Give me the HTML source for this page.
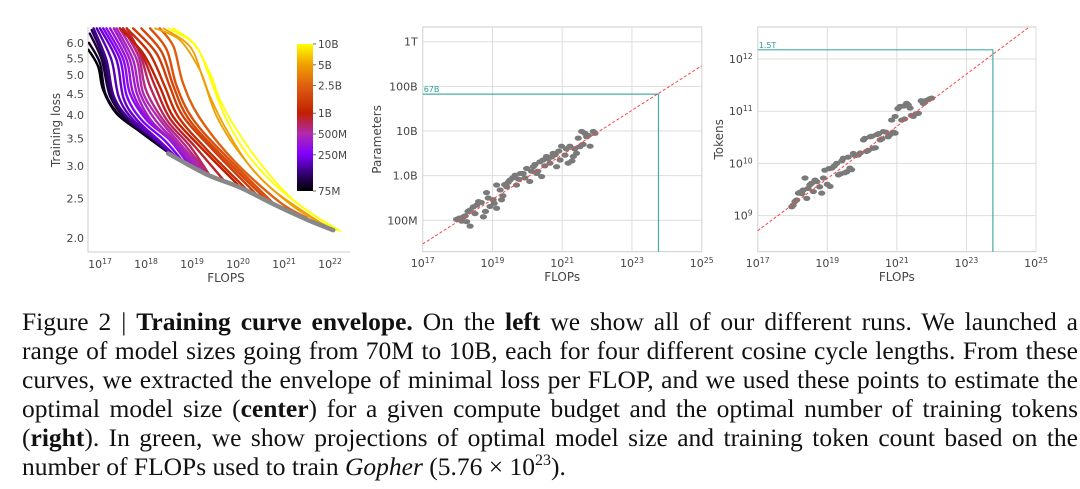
<!DOCTYPE html>
<html><head><meta charset="utf-8"><style>
body{margin:0;background:#fff;width:1080px;height:489px;overflow:hidden;position:relative}
svg text{font-family:"DejaVu Sans","Liberation Sans",sans-serif;fill:#444}
#cap{position:absolute;left:22px;top:307px;width:1056px;font-family:"Liberation Serif",serif;font-size:25.5px;line-height:29px;color:#111}
#cap div{text-align:justify;text-align-last:justify;white-space:nowrap;height:29px}
#cap div.last{text-align-last:left}
#cap sup{font-size:16px;line-height:0;vertical-align:0;position:relative;top:-10px}
</style></head><body>
<svg id="chart" width="1080" height="300" viewBox="0 0 1080 300" xmlns="http://www.w3.org/2000/svg">
<defs>
<linearGradient id="cbar" x1="0" y1="1" x2="0" y2="0">
<stop offset="0" stop-color="#000000"/><stop offset="0.1" stop-color="#2a0060"/><stop offset="0.25" stop-color="#8000ff"/><stop offset="0.39" stop-color="#b02ab0"/><stop offset="0.53" stop-color="#c02000"/><stop offset="0.72" stop-color="#e06010"/><stop offset="0.86" stop-color="#f0a000"/><stop offset="1" stop-color="#ffff00"/>
</linearGradient>
<clipPath id="clipL"><rect x="88" y="27" width="262" height="225"/></clipPath>
<clipPath id="clipC"><rect x="422.7" y="27" width="279" height="225"/></clipPath>
<clipPath id="clipR"><rect x="757.7" y="27" width="278.3" height="225"/></clipPath>
</defs>
<g id="left"></g><g id="center"></g><g id="right"></g>
</svg>
<div id="cap">
<div>Figure 2 | <b>Training curve envelope.</b> On the <b>left</b> we show all of our different runs. We launched a</div>
<div>range of model sizes going from 70M to 10B, each for four different cosine cycle lengths. From these</div>
<div>curves, we extracted the envelope of minimal loss per FLOP, and we used these points to estimate the</div>
<div>optimal model size (<b>center</b>) for a given compute budget and the optimal number of training tokens</div>
<div>(<b>right</b>). In green, we show projections of optimal model size and training token count based on the</div>
<div class="last">number of FLOPs used to train <i>Gopher</i> (5.76 × 10<sup>23</sup>).</div>
</div>
<script>
// ---- left chart data ----
const curveSizesM = [75,90,100,120,150,180,200,250,300,350,400,450,500,600,700,850,1000,1200,1500,1750,2000,2500,5000,5000,10000,10000];
const curveLogC = [
[16.75,16.96,17.07,17.36,17.87,18.48],
[16.76,17.0,17.12,17.45,17.95,18.5],
[16.78,17.04,17.22,17.58,18.09,18.52],
[16.82,17.09,17.26,17.62,18.12,18.56],
[16.86,17.14,17.30,17.65,18.16,18.6],
[16.93,17.25,17.41,17.72,18.23,18.65],
[17.0,17.36,17.51,17.8,18.3,18.7],
[17.07,17.44,17.58,17.9,18.41,18.83],
[17.14,17.51,17.65,18.01,18.52,18.96],
[17.22,17.58,17.72,18.05,18.56,19.03],
[17.3,17.65,17.8,18.1,18.6,19.1],
[17.36,17.72,17.87,18.2,18.67,19.2],
[17.43,17.80,17.94,18.30,18.74,19.32],
[17.5,17.84,18.0,18.37,18.85,19.36],
[17.58,17.87,18.09,18.45,18.96,19.39],
[17.5,17.9,18.2,18.52,19.06,19.7],
[17.43,17.94,18.30,18.59,19.17,20.04],
[17.58,18.08,18.41,18.7,19.3,20.2],
[17.72,18.23,18.52,18.81,19.46,20.41],
[17.9,18.34,18.6,18.92,19.6,20.6],
[18.09,18.45,18.67,19.03,19.75,20.77],
[18.3,18.6,18.8,19.15,19.9,20.9,21.5],
[18.2,18.74,19.17,19.39,19.75,20.33,21.2,21.93],
[18.38,18.96,19.25,19.54,20.04,20.77,21.93],
[18.49,19.03,19.39,19.61,19.97,20.48,21.2,22.14],
[18.59,19.10,19.46,19.75,20.19,20.77,21.49,22.22]];
const curveLoss = [
[5.77,5.25,4.6,4.03,3.64,3.24],
[6.0,5.35,4.5,3.96,3.6,3.23],
[6.32,5.45,4.44,3.89,3.54,3.22],
[6.45,5.45,4.44,3.89,3.52,3.19],
[6.51,5.45,4.44,3.89,3.50,3.17],
[6.51,5.45,4.42,3.89,3.48,3.14],
[6.51,5.45,4.4,3.89,3.45,3.12],
[6.51,5.45,4.46,3.89,3.46,3.05],
[6.51,5.45,4.52,3.89,3.47,2.99],
[6.51,5.45,4.52,3.89,3.44,2.97],
[6.51,5.45,4.52,3.89,3.42,2.95],
[6.51,5.45,4.52,3.89,3.41,2.91],
[6.51,5.45,4.52,3.89,3.4,2.86],
[6.51,5.55,4.6,3.89,3.37,2.85],
[6.51,5.65,4.69,3.89,3.35,2.84],
[6.51,5.65,4.69,3.92,3.35,2.76],
[6.51,5.65,4.69,3.96,3.35,2.67],
[6.51,5.65,4.69,3.96,3.31,2.62],
[6.51,5.65,4.69,3.96,3.28,2.55],
[6.51,5.7,4.69,3.92,3.22,2.49],
[6.51,5.77,4.69,3.89,3.16,2.43],
[6.51,5.87,4.8,3.96,3.1,2.45,2.24],
[6.51,6.09,5.15,4.44,3.68,2.93,2.39,2.14],
[6.51,5.87,4.87,3.96,3.22,2.62,2.13],
[6.51,5.98,5.06,4.35,3.68,3.05,2.48,2.09],
[6.51,5.87,4.69,3.89,3.22,2.72,2.34,2.08]];
const envLogC = [18.48,19.32,20.04,20.77,21.49,22.07];
const envLoss = [3.22,2.86,2.66,2.42,2.22,2.09];
const lossTicks = [2.0,2.5,3.0,3.5,4.0,4.5,5.0,5.5,6.0];
const leftXTicks = [17,18,19,20,21,22];
const cbarSizes = [10000,5000,2500,1000,500,250,75];
const cbarLabels = ["10B","5B","2.5B","1B","500M","250M","75M"];
// ---- center chart data ----
const paramLogC = [17.97,18.17,18.26,18.36,18.36,18.55,18.6,18.74,18.83,18.93,19.02,19.12,19.12,19.26,19.22,19.41,19.5,19.65,19.69,19.88,19.98,20.07,20.17,20.27,20.36,20.41,20.55,20.65,20.74,20.84,20.94,20.98,21.08,21.17,21.22,21.32,21.41,21.51,21.46,21.56,21.7,21.8,21.89,21.94,
 18.05,18.12,18.22,18.3,18.45,18.5,18.68,18.8,18.88,19.05,19.3,19.35,19.45,19.58,19.75,19.8,19.93,20.12,20.22,20.3,20.45,20.5,20.6,20.7,20.8,20.9,21.12,21.28,21.36,21.6,21.65,21.75];
const paramLogN = [8.02,8.08,7.97,7.87,8.23,8.34,8.42,8.08,8.62,8.31,8.46,8.79,8.27,8.46,8.68,8.75,8.9,9.01,8.79,9.05,9.16,8.87,9.2,9.05,9.31,8.98,9.43,9.28,9.5,9.2,9.35,9.66,9.46,9.28,9.66,9.43,9.5,9.65,9.84,9.99,9.87,9.66,9.99,9.95,
 8.05,7.98,8.1,8.2,8.3,8.15,8.4,8.2,8.5,8.38,8.55,8.8,8.85,8.95,8.92,9.05,8.95,9.1,9.25,9.1,9.35,9.22,9.38,9.42,9.47,9.55,9.6,9.33,9.6,9.7,9.95,9.9];
const paramFit = [7.47,11.46];
const paramYTicks = [8,9,10,11,12];
const paramYLabels = ["100M","1.0B","10B","100B","1T"];
const projParamLogN = Math.log10(67e9);
const gopherLogC = Math.log10(5.76e23);
// ---- right chart data ----
const tokLogC = [17.98,18.07,18.17,18.31,18.36,18.41,18.5,18.6,18.7,18.84,18.89,18.93,19.08,19.13,19.27,19.32,19.46,19.56,19.65,19.75,19.89,20.04,20.13,20.23,20.32,20.42,20.52,20.61,20.75,20.95,20.85,20.95,21.09,21.14,21.28,21.38,21.47,21.62,21.76,21.9,22.0,
 18.02,18.12,18.22,18.27,18.45,18.55,18.65,18.78,19.0,19.05,19.2,19.38,19.42,19.5,19.6,19.7,19.8,19.95,20.08,20.18,20.28,20.38,20.48,20.57,20.68,20.8,20.9,21.03,21.2,21.22,21.33,21.42,21.55,21.7,21.82,21.95];
const tokLogD = [9.17,9.27,9.43,9.49,9.72,9.33,9.59,9.46,9.65,9.43,9.72,9.87,9.56,9.91,10.0,9.78,10.1,9.84,9.91,10.19,10.16,10.45,10.23,10.51,10.29,10.55,10.45,10.61,10.51,10.58,10.83,10.9,11.09,10.83,11.15,11.06,10.9,10.96,11.15,11.22,11.25,
 9.2,9.3,9.45,9.42,9.52,9.62,9.68,9.55,9.6,9.9,9.95,9.8,10.05,9.82,10.12,9.88,10.15,10.2,10.48,10.25,10.52,10.3,10.57,10.47,10.6,10.55,10.6,11.05,11.1,10.85,11.12,10.92,10.95,11.2,11.2,11.24];
const tokFit = [8.71,12.71];
const tokYTicks = [9,10,11,12];
const projTokLogD = Math.log10(1.5e12);
const xTicksCR = [17,19,21,23,25];

const NS="http://www.w3.org/2000/svg";
function mk(parent,tag,attrs,txt){const e=document.createElementNS(NS,tag);for(const k in attrs)e.setAttribute(k,attrs[k]);if(txt!==undefined)e.textContent=txt;parent.appendChild(e);return e;}
function pow10Label(g,x,y,exp,anchor,size){
  const t=mk(g,'text',{x:x,y:y,'text-anchor':anchor,'font-size':size});
  const a=document.createElementNS(NS,'tspan');a.textContent='10';t.appendChild(a);
  const b=document.createElementNS(NS,'tspan');b.setAttribute('dy',-4);b.setAttribute('font-size',size*0.7);b.textContent=exp;t.appendChild(b);
  return t;
}
function smooth(pts){
  let d='M'+pts[0][0]+','+pts[0][1];
  for(let i=0;i<pts.length-1;i++){
    const p0=pts[i-1]||pts[i],p1=pts[i],p2=pts[i+1],p3=pts[i+2]||p2;
    const c1=[p1[0]+(p2[0]-p0[0])/6,p1[1]+(p2[1]-p0[1])/6];
    const c2=[p2[0]-(p3[0]-p1[0])/6,p2[1]-(p3[1]-p1[1])/6];
    d+=' C'+c1[0]+','+c1[1]+' '+c2[0]+','+c2[1]+' '+p2[0]+','+p2[1];
  }
  return d;
}
const stops=[[0,[0,0,0]],[0.1,[42,0,96]],[0.25,[128,0,255]],[0.39,[176,42,176]],[0.53,[192,32,0]],[0.72,[224,96,16]],[0.86,[240,160,0]],[1,[255,255,0]]];
function cmap(sizeM){
  const t=Math.log(sizeM/75)/Math.log(10000/75);
  for(let i=0;i<stops.length-1;i++){
    if(t<=stops[i+1][0]){const f=(t-stops[i][0])/(stops[i+1][0]-stops[i][0]);
      const c=stops[i][1].map((v,j)=>Math.round(v+(stops[i+1][1][j]-v)*f));return 'rgb('+c.join(',')+')';}
  }
  return 'rgb(255,255,0)';
}

(function(){
  const g=document.getElementById('left');
  const X=lc=>100+(lc-17)*46;
  const Y=l=>238-(Math.log10(l)-Math.log10(2))*409;
  const ax=mk(g,'path',{d:'M88,27 L88,252 L350,252',fill:'none',stroke:'#ccc','stroke-width':1});
  
  
  const cg=mk(g,'g',{'clip-path':'url(#clipL)'});
  curveSizesM.forEach((s,i)=>{
    const pts=curveLogC[i].map((c,j)=>[X(c),Y(curveLoss[i][j])]);
    const p=mk(cg,'path',{d:smooth(pts),fill:'none',stroke:cmap(s),'stroke-width':(s>=5000?1.8:2.4),'stroke-linecap':'round'});
    
    
  });
  const ep=mk(cg,'path',{d:smooth(envLogC.map((c,j)=>[X(c),Y(envLoss[j])])),fill:'none',stroke:'#888','stroke-width':4.5,'stroke-linecap':'round'});
  
  
  lossTicks.forEach(v=>{
    const t=mk(g,'text',{x:84,y:Y(v)+4,'text-anchor':'end','font-size':11},v.toFixed(1));
    
    
  });
  leftXTicks.forEach(e=>{
    const t=pow10Label(g,X(e),268,e,'middle',11);
    
    
  });
  const xl=mk(g,'text',{x:226,y:282,'text-anchor':'middle','font-size':12},'FLOPS');
  
  
  const yl=mk(g,'text',{x:0,y:0,'text-anchor':'middle','font-size':12,transform:'translate(60,130) rotate(-90)'},'Training loss');
  
  
  const CY=s=>191-(Math.log(s/75)/Math.log(10000/75))*147;
  const cb=mk(g,'rect',{x:297,y:44,width:16,height:147,fill:'url(#cbar)'});
  
  
  cbarSizes.forEach((s,i)=>{
    mk(g,'line',{x1:313,x2:316,y1:CY(s),y2:CY(s),stroke:'#444','stroke-width':0.8});
    const t=mk(g,'text',{x:318,y:CY(s)+4,'font-size':10.5},cbarLabels[i]);
    
    
  });
})();

function scatterChart(gid,clip,L,R,T,B,yDecTop,pxPerY,yTickVals,yLabelFn,xs,ys,fit,projY,yTitle,ylabX,projLabel,prefix){
  const g=document.getElementById(gid);
  const X=lc=>L+(lc-17)*(R-L)/8;
  const Y=v=>yDecTop-(v-yTickVals[yTickVals.length-1])*pxPerY;
  const fr=mk(g,'rect',{x:L,y:T,width:R-L,height:B-T,fill:'none',stroke:'#ccc','stroke-width':1});
  
  
  xTicksCR.forEach(e=>{
    mk(g,'line',{x1:X(e),x2:X(e),y1:T,y2:B,stroke:'#ddd','stroke-width':1});
    const t=pow10Label(g,X(e),267,e,'middle',11);
    
    
  });
  yTickVals.forEach((v,i)=>{
    mk(g,'line',{x1:L,x2:R,y1:Y(v),y2:Y(v),stroke:'#ddd','stroke-width':1});
    const t=yLabelFn(g,L-5,Y(v)+4,v,i);
    
    
  });
  const cg=mk(g,'g',{'clip-path':'url(#'+clip+')'});
  xs.forEach((c,i)=>{
    const d=mk(cg,'ellipse',{cx:X(c),cy:Y(ys[i]),rx:3.6,ry:2.6,fill:'#7a7a7a'});
    
    
  });
  const fl=mk(cg,'line',{x1:X(17),y1:Y(fit[0]),x2:X(25),y2:Y(fit[1]),stroke:'#f44','stroke-width':1,'stroke-dasharray':'3,2'});
  
  
  const gx=X(gopherLogC),gy=Y(projY);
  const pl=mk(cg,'path',{d:'M'+L+','+gy+' L'+gx+','+gy+' L'+gx+','+B,fill:'none',stroke:'#2a9d9a','stroke-width':1.2,opacity:0.85});
  
  
  const lt=mk(g,'text',{x:L+1,y:gy-2,'font-size':8},projLabel);
  lt.style.fill='#2a9d9a';
  
  
  const xl=mk(g,'text',{x:(L+R)/2,y:281,'text-anchor':'middle','font-size':12},'FLOPs');
  
  
  const yl=mk(g,'text',{x:0,y:0,'text-anchor':'middle','font-size':12,transform:'translate('+ylabX+','+((T+B)/2)+') rotate(-90)'},yTitle);
  
  
}
scatterChart('center','clipC',422.7,701.7,27,251.7,41.7,44.65,paramYTicks,
  (g,x,y,v,i)=>mk(g,'text',{x:x,y:y,'text-anchor':'end','font-size':11},paramYLabels[i]),
  paramLogC,paramLogN,paramFit,projParamLogN,'Parameters',381,'67B','params');
scatterChart('right','clipR',757.7,1036,27,251.7,59,52.2,tokYTicks,
  (g,x,y,v,i)=>pow10Label(g,x,y,v,'end',11),
  tokLogC,tokLogD,tokFit,projTokLogD,'Tokens',723,'1.5T','tokens');
</script>
</body></html>
